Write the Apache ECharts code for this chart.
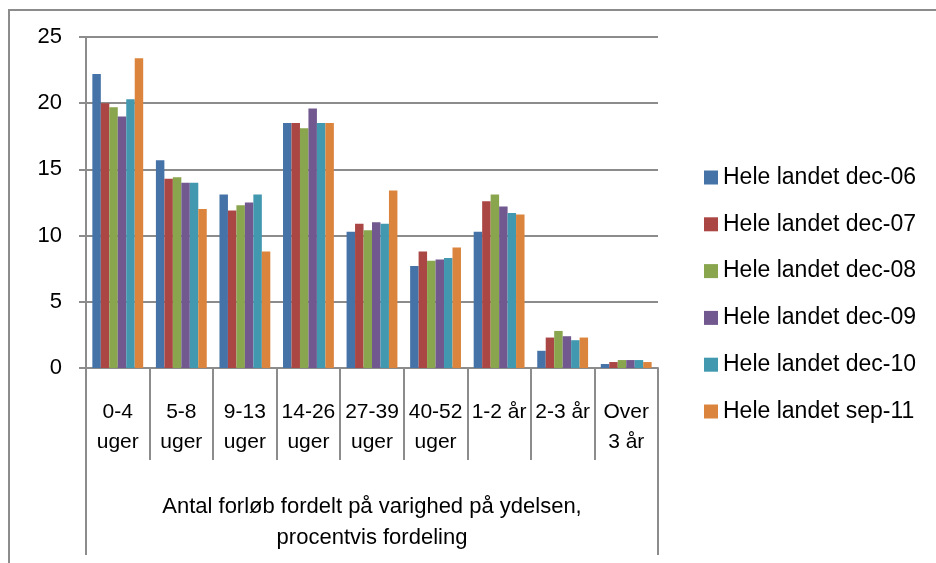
<!DOCTYPE html>
<html>
<head>
<meta charset="utf-8">
<script src="https://cdn.jsdelivr.net/npm/echarts@6/dist/echarts.min.js"></script>
<style>
  html, body { margin: 0; padding: 0; background: #fff; overflow: hidden; }
  #frame {
    position: absolute; left: 8px; top: 9px; width: 1000px; height: 700px;
    border-left: 2px solid #8c8c8c; border-top: 2px solid #8c8c8c;
  }
  #chart { position: absolute; left: 0; top: 0; width: 936px; height: 563px; }
</style>
</head>
<body>
<div id="frame"></div>
<div id="chart"></div>
<script>
const categories = ['0-4\nuger', '5-8\nuger', '9-13\nuger', '14-26\nuger', '27-39\nuger',
                    '40-52\nuger', '1-2 år', '2-3 år', 'Over\n3 år']
const groupLabel = 'Antal forløb fordelt på varighed på ydelsen,\nprocentvis fordeling'

const seriesNames = ['Hele landet dec-06', 'Hele landet dec-07', 'Hele landet dec-08',
                     'Hele landet dec-09', 'Hele landet dec-10', 'Hele landet sep-11']
const dec06 = [22.2, 15.7, 13.1, 18.5, 10.3, 7.7, 10.3, 1.3, 0.3]
const dec07 = [20.0, 14.3, 11.9, 18.5, 10.9, 8.8, 12.6, 2.3, 0.45]
const dec08 = [19.7, 14.4, 12.3, 18.1, 10.4, 8.1, 13.1, 2.8, 0.6]
const dec09 = [19.0, 14.0, 12.5, 19.6, 11.0, 8.2, 12.2, 2.4, 0.6]
const dec10 = [20.3, 14.0, 13.1, 18.5, 10.9, 8.3, 11.7, 2.1, 0.6]
const sep11 = [23.4, 12.0, 8.8, 18.5, 13.4, 9.1, 11.6, 2.3, 0.45]
const yTicks = [0, 5, 10, 15, 20, 25]

const colors = ['#4572a7', '#aa4643', '#89a54e', '#71588f', '#4198af', '#db843d']
const values = [dec06, dec07, dec08, dec09, dec10, sep11]
const font = '"Liberation Sans", Arial, sans-serif'
const gray = '#8c8c8c'

const chart = echarts.init(document.getElementById('chart'))
chart.setOption({
  animation: false,
  color: colors,
  textStyle: { fontFamily: font },
  grid: { left: 86, right: 278, top: 37, bottom: 195 },
  legend: {
    orient: 'vertical',
    left: 699,
    top: 161,
    itemWidth: 14,
    itemHeight: 14,
    itemGap: 23.8,
    icon: 'rect',
    textStyle: { fontSize: 23, lineHeight: 23, color: '#000', fontFamily: font },
    data: seriesNames,
  },
  xAxis: [
    {
      type: 'category',
      data: categories,
      axisLine: { lineStyle: { color: gray, width: 2 } },
      axisTick: { show: true, interval: 0, length: 92, lineStyle: { color: gray, width: 2 } },
      axisLabel: {
        interval: 0, margin: 29, fontSize: 21, lineHeight: 30,
        color: '#000', verticalAlign: 'top', fontFamily: font,
      },
    },
    {
      type: 'category',
      position: 'bottom',
      data: [groupLabel],
      axisLine: { show: false },
      axisTick: { show: true, length: 187, lineStyle: { color: gray, width: 2 } },
      axisLabel: {
        margin: 123, fontSize: 22, lineHeight: 31,
        color: '#000', verticalAlign: 'top', fontFamily: font,
      },
    },
  ],
  yAxis: {
    type: 'value',
    min: yTicks[0],
    max: yTicks[yTicks.length - 1],
    interval: 5,
    axisLine: { show: true, lineStyle: { color: gray, width: 2 } },
    axisTick: { show: true, length: 7, lineStyle: { color: gray, width: 2 } },
    axisLabel: { margin: 24, fontSize: 22, color: '#000', fontFamily: font },
    splitLine: { lineStyle: { color: gray, width: 2 } },
  },
  series: seriesNames.map((name, i) => ({
    name,
    type: 'bar',
    data: values[i],
    barGap: '0%',
    barCategoryGap: '20%',
    itemStyle: { color: colors[i] },
  })),
})
</script>
</body>
</html>
